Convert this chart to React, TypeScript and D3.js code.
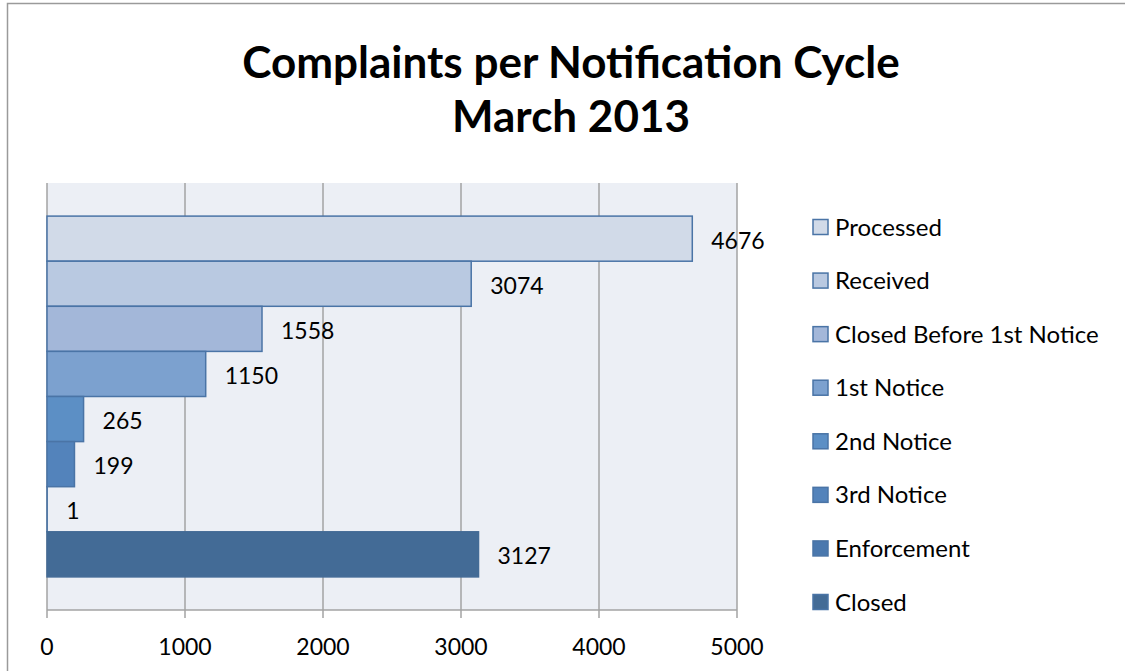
import React from 'react';
import * as d3 from 'd3';

// chart data
const seriesNames = ['Processed', 'Received', 'Closed Before 1st Notice', '1st Notice', '2nd Notice', '3rd Notice', 'Enforcement', 'Closed'];
const seriesValues = [4676, 3074, 1558, 1150, 265, 199, 1, 3127];
const seriesColors = ['#d1dae8', '#b9c9e1', '#a3b7d9', '#7ca1cf', '#5c8fc5', '#5383bb', '#4a78ae', '#436b96'];
const xTicks = [0, 1000, 2000, 3000, 4000, 5000];
const titleLines = ['Complaints per Notification Cycle', 'March 2013'];

const W = 1125;
const H = 671;
const plot = { left: 47, right: 737, top: 183, bottom: 610 };
const font = 'Lato, "Open Sans", sans-serif';

export default function App() {
    const x = d3.scaleLinear().domain([0, 5000]).range([plot.left, plot.right]);
    const y = d3.scaleBand<string>()
        .domain(seriesNames)
        .range([plot.top, plot.bottom])
        .paddingInner(0)
        .paddingOuter(0.734);
    const legendY = d3.scalePoint<string>()
        .domain(seriesNames)
        .range([227, 602]);

    return (
        <svg width={W} height={H} style={{ position: 'absolute', left: 0, top: 0, background: '#fff' }}>
            {/* outer frame */}
            <path d={`M7.5,${H} V3.5 H${W}`} fill="none" stroke="#9a9a9a" strokeWidth={1.5} />

            {titleLines.map((t, i) => (
                <text key={t} x={571} y={78 + i * 54} textAnchor="middle" fontFamily={font}
                      fontWeight="bold" fontSize={44} fill="#000">{t}</text>
            ))}

            <rect x={plot.left} y={plot.top} width={plot.right - plot.left} height={plot.bottom - plot.top} fill="#eceff5" />

            {xTicks.map(t => (
                <g key={t}>
                    <line x1={x(t)} x2={x(t)} y1={plot.top} y2={plot.bottom + 8} stroke="#a3a3a3" strokeWidth={1.5} />
                    <text x={x(t)} y={655} textAnchor="middle" fontFamily={font} fontSize={23} fill="#000">{t}</text>
                </g>
            ))}
            <line x1={plot.left} x2={plot.right} y1={plot.bottom} y2={plot.bottom} stroke="#a3a3a3" strokeWidth={1.5} />

            {seriesNames.map((s, i) => {
                const v = seriesValues[i];
                const y0 = y(s)!;
                const bw = x(v) - x(0);
                const last = i === seriesNames.length - 1;
                return (
                    <g key={s}>
                        <rect x={x(0)} y={y0} width={bw} height={y.bandwidth()} fill={seriesColors[i]}
                              stroke={last ? seriesColors[i] : '#4a74a6'} strokeWidth={1.5} />
                        <text x={x(v) + 19} y={y0 + y.bandwidth() / 2 + 10} fontFamily={font} fontSize={23} fill="#000">{v}</text>
                    </g>
                );
            })}

            {seriesNames.map((s, i) => (
                <g key={'lg' + s} transform={`translate(813,${legendY(s)! - 7.5})`}>
                    <rect width={15} height={15} fill={seriesColors[i]} stroke="#4a74a6" strokeWidth={1.5} />
                    <text x={22} y={16} fontFamily={font} fontSize={24} fill="#000">{s}</text>
                </g>
            ))}
        </svg>
    );
}
